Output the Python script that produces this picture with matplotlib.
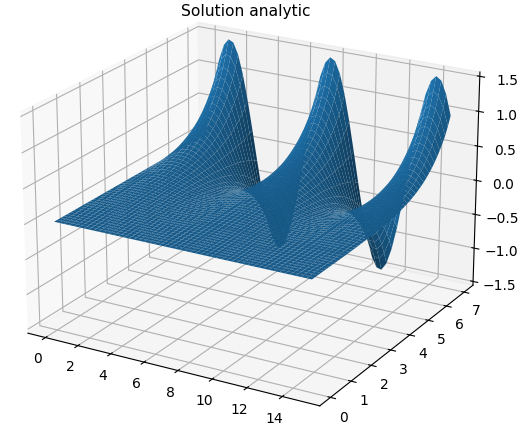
import numpy as np
import matplotlib
matplotlib.use('Agg')
import matplotlib.pyplot as plt

# height along the far edge (y = y_max), read every 0.3 in x
edge_z = [0, .443, .847, 1.175, 1.398, 1.496, 1.461, 1.295, 1.013, .641,
          .212, -.237, -.664, -1.032, -1.307, -1.466, -1.494, -1.389, -1.159, -.826,
          -.419, .025, .467, .868, 1.191, 1.407, 1.498, 1.455, 1.282, .995,
          .618, .187, -.261, -.686, -1.050, -1.320, -1.471, -1.492, -1.379, -1.143,
          -.805, -.395, .050, .491, .888, 1.206, 1.416, 1.499, 1.449, 1.269, .975]
x_step = 0.3

# how much of that height is left going towards y = 0, read every 0.14 in y
decay = [0, .0004, .0009, .0014, .0019, .0025, .0031, .0037, .0044, .0051, .0060,
         .0069, .0079, .0091, .0104, .0119, .0135, .0154, .0175, .0199, .0226,
         .0257, .0291, .0330, .0374, .0424, .0481, .0545, .0618, .0700, .0794,
         .0900, .102, .116, .131, .148, .168, .190, .216, .245, .277,
         .314, .356, .403, .457, .518, .587, .665, .753, .868, 1]
y_step = 0.14

x_vals = np.arange(len(edge_z)) * x_step
y_vals = np.arange(len(decay)) * y_step
X, Y = np.meshgrid(x_vals, y_vals)
Z = np.outer(decay, edge_z)

fig = plt.figure(figsize=(5.28, 4.33), dpi=100)
ax = fig.add_axes([-205.5 / 528, -19.5 / 433, 908 / 528, 488 / 433], projection='3d')
ax.view_init(elev=21.4, azim=-60)
ax.set_box_aspect((4.26, 4.26, 3), zoom=1.04)
ax.plot_surface(X, Y, Z, rcount=51, ccount=51, linewidth=0)
ax.set_xticks(range(0, 16, 2))
ax.tick_params(axis='x', pad=0)
ax.tick_params(axis='y', pad=0)
ax.set_title('Solution analytic', y=0.9538, x=0.494, fontsize=11.2)
fig.savefig('out.png', dpi=100)
